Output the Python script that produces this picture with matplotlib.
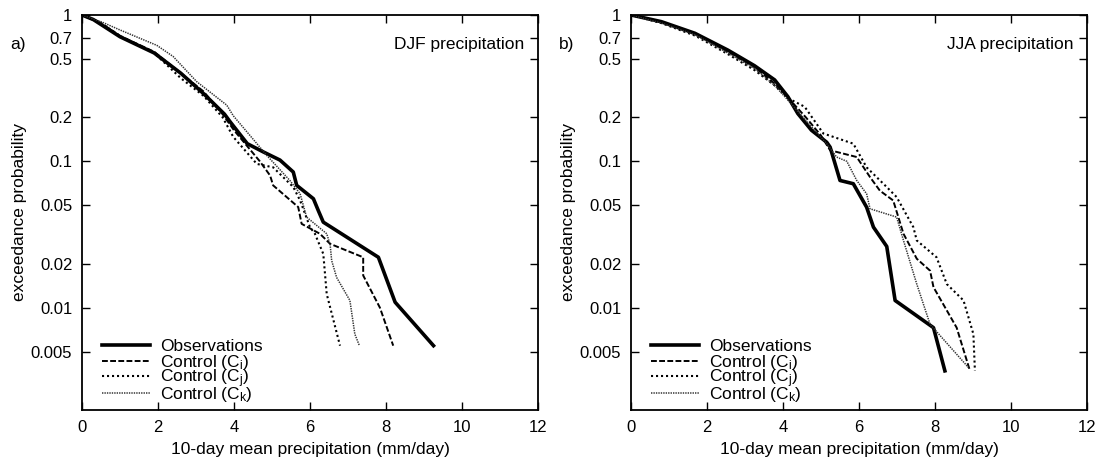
import matplotlib
matplotlib.use("Agg")
import matplotlib.pyplot as plt
from matplotlib.legend import Legend
from matplotlib.ticker import FixedLocator, FixedFormatter, NullLocator

plt.rcParams['font.family'] = ['Liberation Sans', 'DejaVu Sans']
plt.rcParams['mathtext.fontset'] = 'custom'
plt.rcParams['mathtext.rm'] = 'Liberation Sans'
plt.rcParams['mathtext.it'] = 'Liberation Sans'

# ---- DJF (panel a) ----
djf_obs_x = [0, 0.3, 1.0, 1.9, 2.6, 3.2, 3.75, 3.9, 4.35, 4.77, 5.21, 5.56, 5.65, 6.09, 6.22, 6.35, 7.8, 8.24, 9.25]
djf_obs_p = [1, 0.93, 0.71, 0.55, 0.40, 0.29, 0.21, 0.186, 0.132, 0.116, 0.102, 0.0845, 0.0685, 0.0555, 0.046, 0.0384, 0.0221, 0.0109, 0.0055]
djf_ci_x = [0, 0.5, 1.0, 1.9, 2.6, 3.2, 3.7, 4.0, 4.51, 4.68, 4.95, 5.03, 5.69, 5.78, 6.26, 6.53, 7.40, 7.40, 7.84, 8.19]
djf_ci_p = [1, 0.88, 0.72, 0.56, 0.40, 0.30, 0.21, 0.163, 0.113, 0.10, 0.08, 0.0685, 0.0487, 0.0374, 0.032, 0.0273, 0.0221, 0.0166, 0.01, 0.0055]
djf_cj_x = [0, 0.5, 1.0, 1.9, 2.6, 3.2, 3.7, 3.98, 4.6, 5.03, 5.56, 5.74, 6.0, 6.13, 6.35, 6.44, 6.79]
djf_cj_p = [1, 0.88, 0.72, 0.55, 0.37, 0.28, 0.20, 0.147, 0.096, 0.091, 0.0667, 0.054, 0.0355, 0.032, 0.0233, 0.0124, 0.0055]
djf_ck_x = [0, 0.5, 1.0, 1.97, 2.4, 3.02, 3.81, 3.98, 4.68, 4.86, 5.47, 5.74, 5.91, 6.44, 6.53, 6.57, 6.70, 7.05, 7.18, 7.30]
djf_ck_p = [1, 0.90, 0.79, 0.62, 0.52, 0.35, 0.242, 0.205, 0.125, 0.110, 0.074, 0.060, 0.0416, 0.032, 0.027, 0.021, 0.0161, 0.0112, 0.0066, 0.0055]

# ---- JJA (panel b) ----
jja_obs_x = [0, 0.8, 1.68, 2.55, 3.25, 3.78, 4.13, 4.39, 4.75, 5.15, 5.24, 5.50, 5.85, 6.20, 6.38, 6.73, 6.95, 7.96, 8.26]
jja_obs_p = [1, 0.90, 0.75, 0.575, 0.45, 0.36, 0.276, 0.212, 0.163, 0.135, 0.125, 0.074, 0.0703, 0.0486, 0.0355, 0.0262, 0.0112, 0.0073, 0.0037]
jja_ci_x = [0, 0.8, 1.7, 2.55, 3.25, 3.78, 4.2, 4.6, 5.0, 5.24, 5.94, 6.29, 6.55, 6.90, 7.17, 7.52, 7.87, 7.96, 8.57, 8.92]
jja_ci_p = [1, 0.89, 0.74, 0.56, 0.44, 0.34, 0.26, 0.20, 0.15, 0.119, 0.107, 0.078, 0.063, 0.054, 0.032, 0.0216, 0.0179, 0.0138, 0.0073, 0.0037]
jja_cj_x = [0, 0.8, 1.7, 2.55, 3.25, 3.78, 4.13, 4.57, 5.06, 5.85, 6.20, 6.73, 6.99, 7.43, 7.52, 8.04, 8.31, 8.75, 9.01, 9.05]
jja_cj_p = [1, 0.88, 0.72, 0.54, 0.42, 0.33, 0.27, 0.236, 0.155, 0.132, 0.091, 0.0667, 0.057, 0.0355, 0.0288, 0.0221, 0.0145, 0.0112, 0.0066, 0.0037]
jja_ck_x = [0, 0.8, 1.7, 2.55, 3.25, 3.78, 4.2, 4.6, 5.15, 5.41, 5.68, 5.94, 6.20, 6.29, 6.99, 7.17, 7.52, 7.87, 8.88]
jja_ck_p = [1, 0.88, 0.73, 0.55, 0.43, 0.33, 0.25, 0.19, 0.132, 0.107, 0.10, 0.074, 0.060, 0.0474, 0.0416, 0.0288, 0.0145, 0.0077, 0.0039]

y_ticks = [1, 0.7, 0.5, 0.2, 0.1, 0.05, 0.02, 0.01, 0.005]
y_labels = ['1', '0.7', '0.5', '0.2', '0.1', '0.05', '0.02', '0.01', '0.005']
x_ticks = [0, 2, 4, 6, 8, 10, 12]
series_labels = ['Observations', 'Control (C$_{i}$)', 'Control (C$_{j}$)', 'Control (C$_{k}$)']
panel_letters = ['a)', 'b)']
panel_titles = ['DJF precipitation', 'JJA precipitation']

fig = plt.figure(figsize=(11.02, 4.68), dpi=100)
axes = [fig.add_axes([0.0744, 0.124, 0.4138, 0.844]),
        fig.add_axes([0.5726, 0.124, 0.4138, 0.844])]

data = [
    [(djf_obs_x, djf_obs_p), (djf_ci_x, djf_ci_p), (djf_cj_x, djf_cj_p), (djf_ck_x, djf_ck_p)],
    [(jja_obs_x, jja_obs_p), (jja_ci_x, jja_ci_p), (jja_cj_x, jja_cj_p), (jja_ck_x, jja_ck_p)],
]
styles = [
    dict(color='black', lw=2.6, ls='-'),
    dict(color='black', lw=1.4, ls=(0, (3.0, 1.2))),
    dict(color='black', lw=1.5, ls=(0, (1.0, 1.4))),
    dict(color='#333333', lw=1.1, ls=(0, (0.9, 0.7))),
]
legend_rows = [0.160, 0.119, 0.079, 0.038]   # axes-fraction centres of legend rows

FS = 12.5
for k, ax in enumerate(axes):
    lines = []
    for (xs, ps), st, lab in zip(data[k], styles, series_labels):
        ln, = ax.plot(xs, ps, label=lab, solid_joinstyle='round', dash_joinstyle='round', **st)
        lines.append(ln)
    ax.set_yscale('log')
    ax.set_xlim(0, 12)
    ax.set_ylim(0.002, 1)
    ax.yaxis.set_major_locator(FixedLocator(y_ticks))
    ax.yaxis.set_major_formatter(FixedFormatter(y_labels))
    ax.yaxis.set_minor_locator(NullLocator())
    ax.set_xticks(x_ticks)
    ax.tick_params(direction='in', length=6, width=1.0, top=True, right=True,
                   labelsize=12, pad=7)
    for sp in ax.spines.values():
        sp.set_linewidth(1.3)
    ax.set_xlabel('10-day mean precipitation (mm/day)', fontsize=FS, labelpad=5)
    ax.set_ylabel('exceedance probability', fontsize=FS, labelpad=3)
    ax.text(0.97, 0.925, panel_titles[k], transform=ax.transAxes, ha='right', va='center', fontsize=FS)
    ax.text(-0.158, 0.925, panel_letters[k], transform=ax.transAxes, ha='left', va='center', fontsize=FS)
    for ln, lab, yr in zip(lines, series_labels, legend_rows):
        lg = Legend(ax, [ln], [lab], loc='center left', bbox_to_anchor=(0.044, yr),
                    frameon=False, fontsize=FS, handlelength=2.75, handletextpad=0.6,
                    borderaxespad=0.0, borderpad=0.0)
        ax.add_artist(lg)

fig.savefig('out.png', dpi=100)
